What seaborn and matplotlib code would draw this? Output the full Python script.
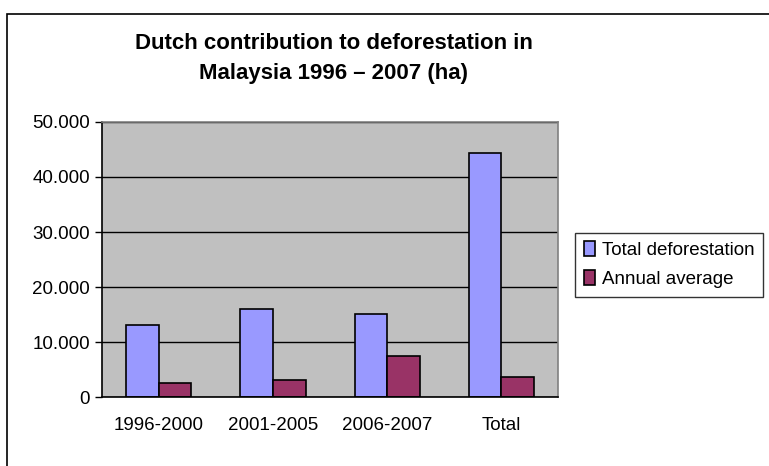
import numpy as np
import pandas as pd
import seaborn as sns
import matplotlib.pyplot as plt
from matplotlib.patches import Rectangle

# Data
periods = ['1996-2000', '2001-2005', '2006-2007', 'Total']
total_deforestation = [13200, 16000, 15200, 44400]
annual_average = [2600, 3150, 7500, 3750]
series_names = ['Total deforestation', 'Annual average']
y_ticks = [0, 10000, 20000, 30000, 40000, 50000]
y_tick_labels = ['0', '10.000', '20.000', '30.000', '40.000', '50.000']

df = pd.DataFrame({
    'period': periods * 2,
    'value': total_deforestation + annual_average,
    'series': [series_names[0]] * 4 + [series_names[1]] * 4,
})

sns.set_style('white', {'text.color': 'black', 'xtick.color': 'black', 'ytick.color': 'black'})
plt.rcParams['font.family'] = ['Liberation Sans', 'DejaVu Sans']

fig = plt.figure(figsize=(7.69, 4.66), dpi=100)
ax = fig.add_axes([0.1322, 0.1474, 0.594, 0.591])

# outer chart border
fig.patches.append(Rectangle((7 / 769, -0.1), 1.2, 1 - 14 / 466 + 0.1,
                             transform=fig.transFigure, fill=False,
                             edgecolor='black', linewidth=1.2))

sns.barplot(data=df, x='period', y='value', hue='series', ax=ax,
            palette=['#9999FF', '#993366'], width=0.57, saturation=1,
            edgecolor='black', linewidth=1.2, legend=True)

ax.set_facecolor('#C0C0C0')
ax.set_ylim(0, 50000)
ax.set_xlim(-0.5, 3.5)
ax.set_yticks(y_ticks)
ax.set_yticklabels(y_tick_labels, fontsize=13.5, color='black')
ax.yaxis.grid(True, color='black', linewidth=1)
ax.set_axisbelow(True)
ax.set_xlabel('')
ax.set_ylabel('')

ax.tick_params(axis='x', which='major', length=0, pad=14, labelsize=13.5, labelcolor='black')
ax.set_xticks(np.arange(-0.5, 4, 1), minor=True)
ax.tick_params(axis='x', which='minor', length=7, width=1, color='black', direction='out')
ax.tick_params(axis='y', length=5, width=1, color='black', direction='out', left=True)

for side in ['left', 'bottom']:
    ax.spines[side].set_color('black')
    ax.spines[side].set_linewidth(1.2)
for side in ['top', 'right']:
    ax.spines[side].set_color('#808080')
    ax.spines[side].set_linewidth(1.2)

handles, labels = ax.get_legend_handles_labels()
ax.get_legend().remove()
leg = fig.legend(handles, labels, loc='upper left', bbox_to_anchor=(0.748, 0.5),
                 frameon=True, fancybox=False, edgecolor='black', fontsize=13.5,
                 handlelength=0.6, handleheight=0.8, handletextpad=0.4,
                 borderpad=0.45, labelspacing=0.6, borderaxespad=0)
for t in leg.get_texts():
    t.set_color('black')

fig.text(0.434, 0.874, 'Dutch contribution to deforestation in\nMalaysia 1996 \u2013 2007 (ha)',
         ha='center', va='center', fontsize=16, fontweight='bold', linespacing=1.55,
         color='black')

fig.savefig('out.png', dpi=100)
